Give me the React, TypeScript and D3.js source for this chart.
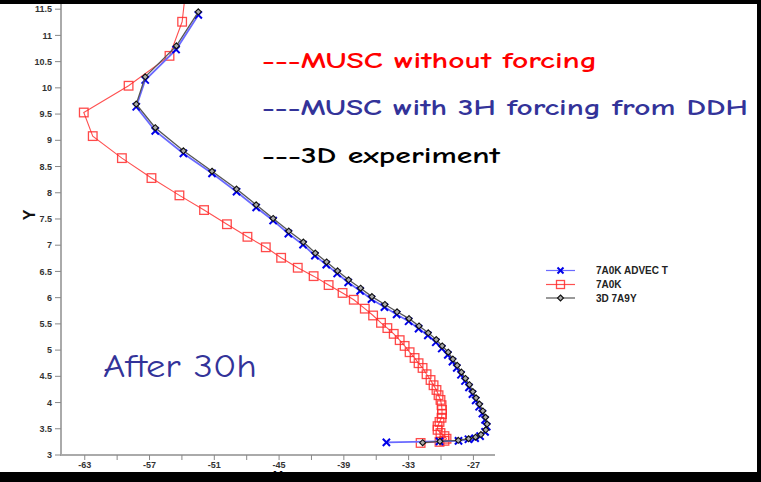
import React from "react";
import * as d3 from "d3";

// 7A0K ADVEC T (blue)
const blueX = [-52.48, -54.54, -57.40, -58.23, -56.47, -53.86, -51.21, -48.94, -47.12, -45.55, -44.14, -42.78, -41.68, -40.63, -39.62, -38.60, -37.49, -36.44, -35.24, -34.11, -33.00, -32.08, -31.22, -30.48, -29.93, -29.37, -28.94, -28.54, -28.15, -27.78, -27.41, -27.09, -26.79, -26.47, -26.17, -25.92, -25.77, -25.92, -26.38, -26.84, -27.46, -28.38, -30.14, -35.06];
const blueY = [11.39, 10.73, 10.15, 9.64, 9.18, 8.75, 8.37, 8.02, 7.72, 7.47, 7.22, 7.01, 6.80, 6.63, 6.46, 6.29, 6.13, 5.97, 5.82, 5.68, 5.55, 5.41, 5.28, 5.15, 5.03, 4.91, 4.78, 4.66, 4.53, 4.41, 4.29, 4.16, 4.04, 3.92, 3.79, 3.67, 3.54, 3.44, 3.36, 3.32, 3.30, 3.27, 3.26, 3.24];

// 7A0K (red)
const redX = [-53.6, -53.98, -55.15, -58.94, -63.09, -62.26, -59.56, -56.82, -54.23, -51.95, -49.83, -47.93, -46.23, -44.81, -43.27, -41.80, -40.41, -39.12, -38.08, -37.06, -36.29, -35.56, -34.97, -34.38, -33.83, -33.37, -32.91, -32.45, -32.08, -31.71, -31.34, -30.97, -30.69, -30.42, -30.23, -30.05, -29.95, -29.91, -29.91, -29.95, -30.14, -30.32, -30.32, -30.05, -29.68, -29.49, -29.68, -30.14, -31.89];
const redY = [11.95, 11.26, 10.61, 10.04, 9.53, 9.08, 8.66, 8.28, 7.95, 7.67, 7.40, 7.16, 6.96, 6.76, 6.57, 6.41, 6.24, 6.09, 5.96, 5.79, 5.66, 5.52, 5.42, 5.31, 5.19, 5.08, 4.96, 4.85, 4.75, 4.66, 4.54, 4.43, 4.33, 4.24, 4.14, 4.05, 3.95, 3.86, 3.78, 3.71, 3.63, 3.55, 3.48, 3.42, 3.36, 3.31, 3.27, 3.25, 3.23];

// 3D 7A9Y (black)
const blackX = [-52.48, -54.51, -57.40, -58.23, -56.47, -53.86, -51.21, -48.94, -47.12, -45.55, -44.10, -42.75, -41.64, -40.60, -39.58, -38.56, -37.45, -36.40, -35.20, -34.07, -32.96, -32.04, -31.18, -30.44, -29.89, -29.33, -28.90, -28.50, -28.11, -27.74, -27.37, -27.05, -26.75, -26.43, -26.13, -25.88, -25.73, -25.85, -26.30, -26.80, -27.45, -28.40, -30.10, -31.70];
const blackY = [11.45, 10.80, 10.21, 9.69, 9.24, 8.80, 8.41, 8.07, 7.77, 7.51, 7.27, 7.06, 6.85, 6.68, 6.51, 6.34, 6.18, 6.02, 5.87, 5.73, 5.60, 5.46, 5.33, 5.20, 5.08, 4.96, 4.83, 4.71, 4.58, 4.46, 4.34, 4.21, 4.09, 3.97, 3.84, 3.72, 3.59, 3.48, 3.39, 3.34, 3.31, 3.28, 3.26, 3.235];

const yTicks = [3, 3.5, 4, 4.5, 5, 5.5, 6, 6.5, 7, 7.5, 8, 8.5, 9, 9.5, 10, 10.5, 11, 11.5];
const xTickLabels = [-63, -57, -51, -45, -39, -33, -27];
const xMinorTicks = [-63, -60, -57, -54, -51, -48, -45, -42, -39, -36, -33, -30, -27];
const legendLabels = ["7A0K ADVEC T", "7A0K", "3D 7A9Y"];
const titles = ["---MUSC without forcing", "---MUSC with 3H forcing from DDH", "---3D experiment"];

const W = 761, H = 482;
const x = d3.scaleLinear().domain([-65.2, -25]).range([61, 495]);
const y = d3.scaleLinear().domain([3, 11.675]).range([455, 0]);

const zip = (a: number[], b: number[]) => a.map((v, i) => [v, b[i]] as [number, number]);
const line = d3.line<[number, number]>().x(d => x(d[0])).y(d => y(d[1]));

const comic = "'Comic Sans MS', 'Comic Neue', Lato, 'Open Sans', sans-serif";
const arial = "'Liberation Sans', Arial, Helvetica, sans-serif";

function Cross({ cx, cy, s = 3.6 }: { cx: number; cy: number; s?: number }) {
  return (
    <g stroke="#0000e8" strokeWidth={2}>
      <line x1={cx - s} y1={cy - s} x2={cx + s} y2={cy + s} />
      <line x1={cx - s} y1={cy + s} x2={cx + s} y2={cy - s} />
    </g>
  );
}
function Square({ cx, cy, s = 4.3 }: { cx: number; cy: number; s?: number }) {
  return <rect x={cx - s} y={cy - s} width={2 * s} height={2 * s} fill="none" stroke="#ff2a2a" strokeOpacity={0.85} strokeWidth={1.3} />;
}
function Diamond({ cx, cy, s = 3 }: { cx: number; cy: number; s?: number }) {
  return <path d={`M${cx},${cy - s}L${cx + s},${cy}L${cx},${cy + s}L${cx - s},${cy}Z`} fill="#aaa" stroke="#111" strokeWidth={1.1} />;
}

export default function App() {
  const blue = zip(blueX, blueY);
  const red = zip(redX, redY);
  const black = zip(blackX, blackY);
  const legY = [270.5, 284.5, 298];
  return (
    <svg width={W} height={H} style={{ position: "absolute", left: 0, top: 0, background: "#fff" }}>
      <defs>
        <clipPath id="plot">
          <rect x={61} y={0} width={434} height={455} />
        </clipPath>
      </defs>
      <rect x={0} y={0} width={W} height={H} fill="#fff" />
      <g clipPath="url(#plot)">
        <path d={line(red) || ""} fill="none" stroke="#ff5050" strokeWidth={1.1} />
        {red.map((d, i) => <Square key={"r" + i} cx={x(d[0])} cy={y(d[1])} />)}
        <path d={line(blue) || ""} fill="none" stroke="#6a6aff" strokeWidth={1.8} />
        {blue.map((d, i) => <Cross key={"b" + i} cx={x(d[0])} cy={y(d[1])} />)}
        <path d={line(black) || ""} fill="none" stroke="#555" strokeWidth={1.3} />
        {black.map((d, i) => <Diamond key={"k" + i} cx={x(d[0])} cy={y(d[1])} />)}
      </g>
      {/* axes */}
      <line x1={61} y1={0} x2={61} y2={456} stroke="#aaa" strokeWidth={2} />
      <line x1={60} y1={455} x2={495} y2={455} stroke="#aaa" strokeWidth={2} />
      {yTicks.map(t => (
        <g key={"yt" + t}>
          <line x1={55} x2={61} y1={y(t)} y2={y(t)} stroke="#888" strokeWidth={1} />
          <text x={52} y={y(t)} dy="0.35em" textAnchor="end" fontFamily={arial} fontWeight="bold" fontSize={9} fill="#333">{t}</text>
        </g>
      ))}
      {xMinorTicks.map(t => (
        <line key={"xm" + t} x1={x(t)} x2={x(t)} y1={455} y2={460} stroke="#888" strokeWidth={1} />
      ))}
      {xTickLabels.map(t => (
        <text key={"xl" + t} x={x(t)} y={465} dy="0.35em" textAnchor="middle" fontFamily={arial} fontWeight="bold" fontSize={9} fill="#333">{t}</text>
      ))}
      <text transform={`translate(35,215) rotate(-90)`} textAnchor="middle" fontFamily={arial} fontWeight="bold" fontSize={16} fill="#111">Y</text>
      <text x={278} y={481} textAnchor="middle" fontFamily={arial} fontWeight="bold" fontSize={15} fill="#000">X</text>

      {/* legend */}
      {legendLabels.map((lab, i) => (
        <g key={"lg" + i}>
          <line x1={546} x2={575} y1={legY[i]} y2={legY[i]} stroke={i === 0 ? "#6a6aff" : i === 1 ? "#ff5050" : "#555"} strokeWidth={1.2} />
          {i === 0 && <Cross cx={560.5} cy={legY[i]} s={3} />}
          {i === 1 && <Square cx={560.5} cy={legY[i]} s={4} />}
          {i === 2 && <Diamond cx={560.5} cy={legY[i]} s={3} />}
          <text x={596} y={legY[i]} dy="0.35em" fontFamily={arial} fontWeight="bold" fontSize={10} fill="#222">{lab}</text>
        </g>
      ))}

      {/* annotation titles */}
      <text x={262} y={68} fontFamily={comic} fontWeight="bold" fontSize={23} fill="#ff0000" textLength={335} lengthAdjust="spacingAndGlyphs">{titles[0]}</text>
      <text x={262} y={115} fontFamily={comic} fontWeight="bold" fontSize={23} fill="#333399" textLength={486} lengthAdjust="spacingAndGlyphs">{titles[1]}</text>
      <text x={262} y={163} fontFamily={comic} fontWeight="bold" fontSize={23} fill="#000" textLength={238} lengthAdjust="spacingAndGlyphs">{titles[2]}</text>
      <text x={103} y={377} fontFamily={comic} fontSize={32} fill="#333399" textLength={154} lengthAdjust="spacingAndGlyphs">After 30h</text>

      {/* frame */}
      <rect x={0} y={0} width={W} height={4} fill="#000" />
      <rect x={0} y={472} width={W} height={10} fill="#000" />
      <rect x={757} y={0} width={4} height={H} fill="#000" />
    </svg>
  );
}
